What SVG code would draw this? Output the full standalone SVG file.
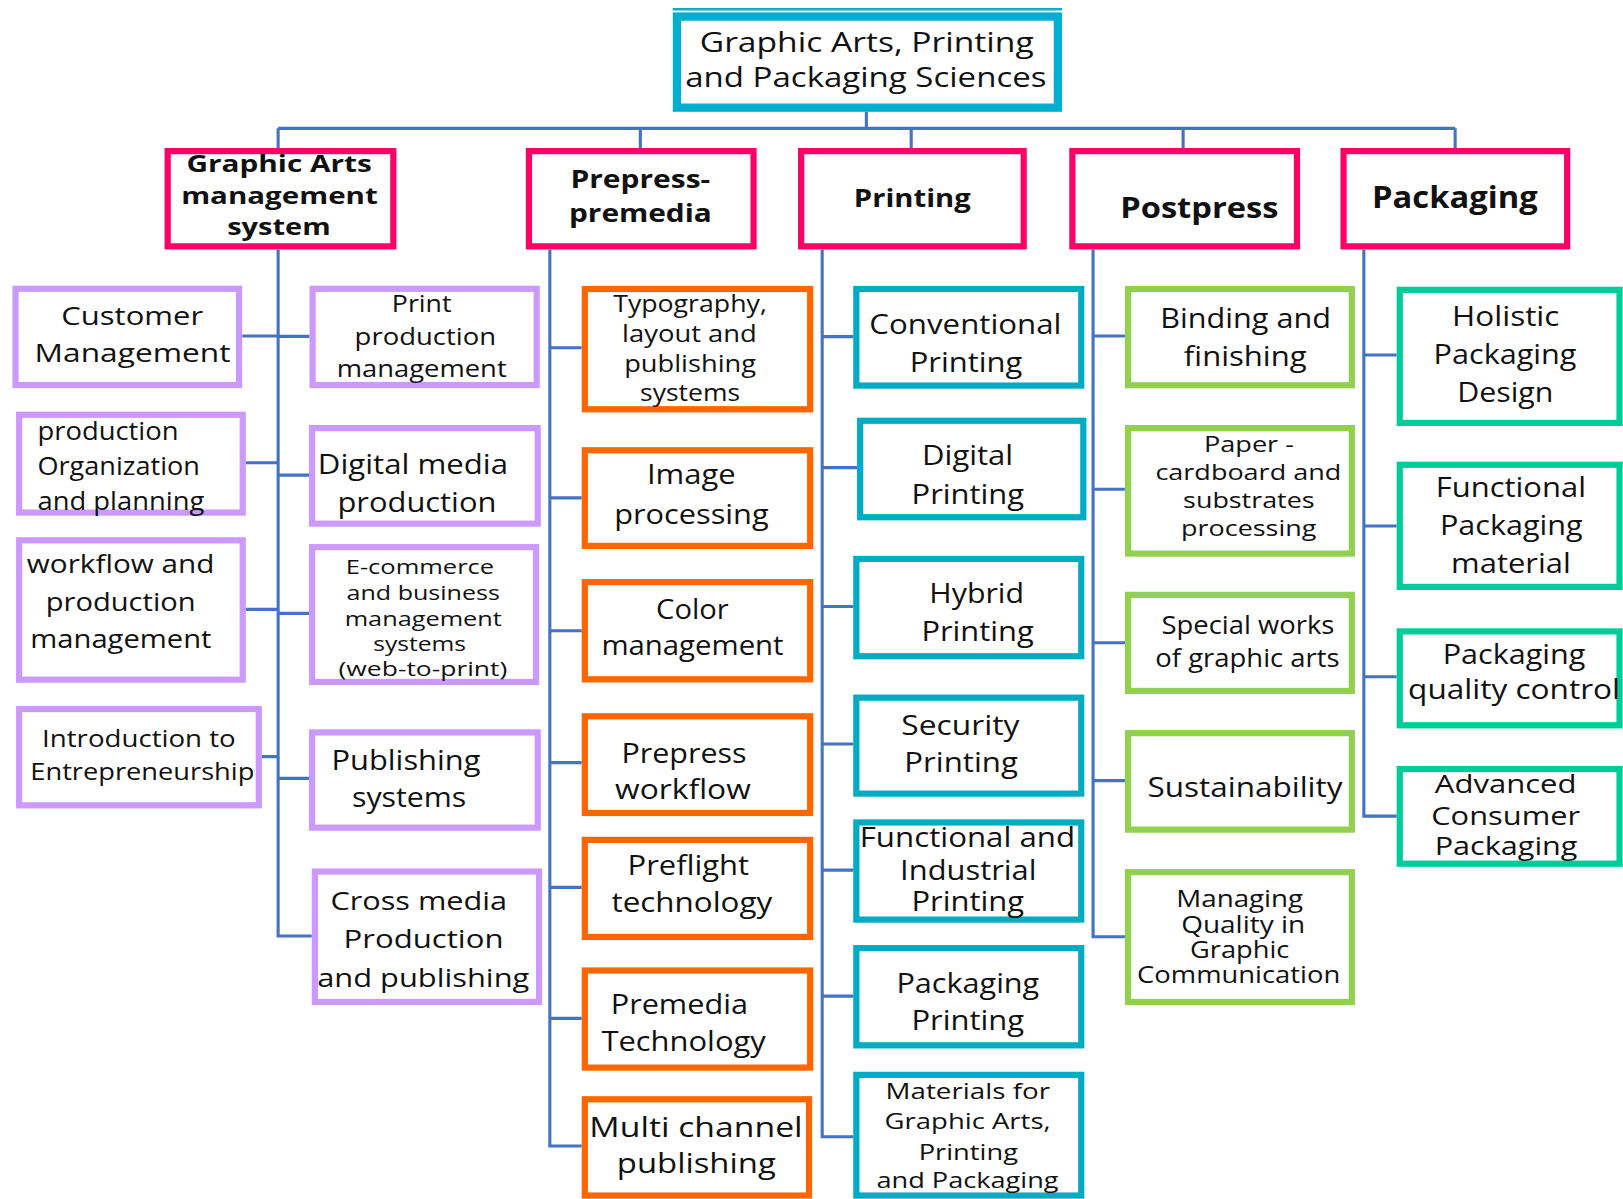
<svg xmlns="http://www.w3.org/2000/svg" width="1623" height="1199" viewBox="0 0 1623 1199">
<style>
text{font-family:"Open Sans","Liberation Sans",sans-serif;fill:#111;text-anchor:middle}
.b text{font-weight:bold}
.box{fill:#fff;stroke-width:6}
.top{fill:#fff;stroke:#00AED0;stroke-width:8}
.l1{stroke:#FF0066}
.ga{stroke:#CC99FF}
.pp{stroke:#FF6600}
.pr{stroke:#00ACC1}
.po{stroke:#92D050}
.pk{stroke:#00CC99}
.c{fill:none;stroke:#4472C4;stroke-width:3}
</style>
<rect width="1623" height="1199" fill="#fff"/>
<g transform="scale(1.0351)">
<g id="connectors" class="c">
<path d="M837,108V124M268.7,124H1405.8M268.7,124V143M618.6,124V143M880.3,124V143M1143,124V143M1405.8,124V143"/>
<path d="M268.7,241V904.3H301.2M234,324.6H268.7M268.7,325H299M237.4,447H268.7M268.7,459H298.5M237.4,588.7H268.7M268.7,592.6H298.5M253,731H268.7M268.7,752H298.5"/>
<path d="M531.2,241V1107.2H562M531.2,336H562M531.2,481H562M531.2,609.3H562M531.2,736.8H562M531.2,857.3H562M531.2,983.8H562"/>
<path d="M794.3,241V1098.2H824.3M794.3,325.2H824.3M794.3,451.8H828M794.3,586H824.3M794.3,718.8H824.3M794.3,840.6H824.3M794.3,962.3H824.3"/>
<path d="M1056,241V905H1086.8M1056,324.6H1086.8M1056,472.7H1086.8M1056,621H1086.8M1056,754.2H1086.8"/>
<path d="M1317.6,241V788.4H1349.3M1317.6,343H1349.3M1317.6,508.2H1349.3M1317.6,653.8H1349.3"/>
</g>

<g id="root" font-size="27">
<line x1="650" y1="9" x2="1026" y2="9" stroke="#00AED0" stroke-width="2.5"/>
<rect class="top" x="654" y="16" width="368" height="88"/>
<text x="837.3" y="50" textLength="322.6" lengthAdjust="spacingAndGlyphs">Graphic Arts, Printing</text>
<text x="836.5" y="84" textLength="349" lengthAdjust="spacingAndGlyphs">and Packaging Sciences</text>
</g>

<g id="ga" class="b" font-size="22.4">
<rect class="box l1" x="162" y="146" width="218" height="92"/>
<text x="269.6" y="166" textLength="179" lengthAdjust="spacingAndGlyphs">Graphic Arts</text>
<text x="270" y="197" textLength="190" lengthAdjust="spacingAndGlyphs">management</text>
<text x="269.5" y="227" textLength="100" lengthAdjust="spacingAndGlyphs">system</text>
</g>
<g id="prepress" class="b" font-size="24.8">
<rect class="box l1" x="511" y="146" width="217" height="92"/>
<text x="618.6" y="182" textLength="135" lengthAdjust="spacingAndGlyphs">Prepress-</text>
<text x="618.7" y="214" textLength="138" lengthAdjust="spacingAndGlyphs">premedia</text>
</g>
<g id="printing" class="b" font-size="24.8">
<rect class="box l1" x="774" y="146" width="215" height="92"/>
<text x="881.4" y="199.7" textLength="113" lengthAdjust="spacingAndGlyphs">Printing</text>
</g>
<g id="postpress" class="b" font-size="27">
<rect class="box l1" x="1036" y="146" width="217" height="92"/>
<text x="1158.7" y="211" textLength="153" lengthAdjust="spacingAndGlyphs">Postpress</text>
</g>
<g id="packaging" class="b" font-size="29.4">
<rect class="box l1" x="1298" y="146" width="216" height="92"/>
<text x="1405.5" y="201" textLength="160" lengthAdjust="spacingAndGlyphs">Packaging</text>
</g>

<g id="customer-management" font-size="24.8">
<rect class="box ga" x="15" y="279" width="216" height="93"/>
<text x="127.7" y="314" textLength="137" lengthAdjust="spacingAndGlyphs">Customer</text>
<text x="128.1" y="349.4" textLength="189.3" lengthAdjust="spacingAndGlyphs">Management</text>
</g>
<g id="print-production-management" font-size="22.4">
<rect class="box ga" x="302" y="279" width="216.5" height="93"/>
<text x="407.4" y="301" textLength="57.6" lengthAdjust="spacingAndGlyphs">Print</text>
<text x="410.9" y="333.3" textLength="136.6" lengthAdjust="spacingAndGlyphs">production</text>
<text x="407.4" y="364" textLength="164.2" lengthAdjust="spacingAndGlyphs">management</text>
</g>
<g id="production-organization" font-size="23.8">
<rect class="box ga" x="18.5" y="400.7" width="216" height="94.5"/>
<text x="36.2" y="425" textLength="136.3" lengthAdjust="spacingAndGlyphs" style="text-anchor:start">production</text>
<text x="36.2" y="459" textLength="157" lengthAdjust="spacingAndGlyphs" style="text-anchor:start">Organization</text>
<text x="36.2" y="492.8" textLength="161.2" lengthAdjust="spacingAndGlyphs" style="text-anchor:start">and planning</text>
</g>
<g id="digital-media-production" font-size="25.8">
<rect class="box ga" x="301.5" y="413.6" width="218" height="92.3"/>
<text x="398.9" y="458" textLength="183.7" lengthAdjust="spacingAndGlyphs">Digital media</text>
<text x="402.8" y="494.4" textLength="153.6" lengthAdjust="spacingAndGlyphs">production</text>
</g>
<g id="workflow-production-management" font-size="24.8">
<rect class="box ga" x="18.5" y="522" width="216" height="134.6"/>
<text x="116.5" y="554" textLength="181.1" lengthAdjust="spacingAndGlyphs">workflow and</text>
<text x="116.6" y="590" textLength="144.8" lengthAdjust="spacingAndGlyphs">production</text>
<text x="116.8" y="626.4" textLength="175" lengthAdjust="spacingAndGlyphs">management</text>
</g>
<g id="e-commerce" font-size="19">
<rect class="box ga" x="301.5" y="528.6" width="216.4" height="130.2"/>
<text x="405.7" y="554.6" textLength="143.3" lengthAdjust="spacingAndGlyphs">E-commerce</text>
<text x="408.9" y="579.7" textLength="148.3" lengthAdjust="spacingAndGlyphs">and business</text>
<text x="408.9" y="604.8" textLength="151.8" lengthAdjust="spacingAndGlyphs">management</text>
<text x="405.4" y="628.7" textLength="89.7" lengthAdjust="spacingAndGlyphs">systems</text>
<text x="408.6" y="653" textLength="163" lengthAdjust="spacingAndGlyphs">(web-to-print)</text>
</g>
<g id="entrepreneurship" font-size="22.4">
<rect class="box ga" x="18.5" y="685" width="231.5" height="93"/>
<text x="134.2" y="721.4" textLength="187.1" lengthAdjust="spacingAndGlyphs">Introduction to</text>
<text x="137.5" y="753.6" textLength="216.4" lengthAdjust="spacingAndGlyphs">Entrepreneurship</text>
</g>
<g id="publishing-systems" font-size="27">
<rect class="box ga" x="301.5" y="707.6" width="218" height="92"/>
<text x="392.2" y="744" textLength="143.9" lengthAdjust="spacingAndGlyphs">Publishing</text>
<text x="395.2" y="779.4" textLength="110.3" lengthAdjust="spacingAndGlyphs">systems</text>
</g>
<g id="cross-media" font-size="23.8">
<rect class="box ga" x="304.2" y="842" width="216.6" height="126"/>
<text x="404.6" y="879" textLength="170.8" lengthAdjust="spacingAndGlyphs">Cross media</text>
<text x="409.2" y="916.2" textLength="154.5" lengthAdjust="spacingAndGlyphs">Production</text>
<text x="408.9" y="953.3" textLength="204.9" lengthAdjust="spacingAndGlyphs">and publishing</text>
</g>

<g id="typography" font-size="23.4">
<rect class="box pp" x="565" y="279.2" width="217.7" height="116.2"/>
<text x="666.6" y="301" textLength="148.4" lengthAdjust="spacingAndGlyphs">Typography,</text>
<text x="666.1" y="330" textLength="130.2" lengthAdjust="spacingAndGlyphs">layout and</text>
<text x="666.7" y="359.4" textLength="127.4" lengthAdjust="spacingAndGlyphs">publishing</text>
<text x="666.7" y="387" textLength="96.6" lengthAdjust="spacingAndGlyphs">systems</text>
</g>
<g id="image-processing" font-size="25.6">
<rect class="box pp" x="565" y="435" width="217.7" height="92.4"/>
<text x="667.9" y="467.7" textLength="85.8" lengthAdjust="spacingAndGlyphs">Image</text>
<text x="668" y="506" textLength="149.1" lengthAdjust="spacingAndGlyphs">processing</text>
</g>
<g id="color-management" font-size="25.6">
<rect class="box pp" x="565" y="562.4" width="217.7" height="93.9"/>
<text x="668.9" y="597.7" textLength="70.2" lengthAdjust="spacingAndGlyphs">Color</text>
<text x="669" y="632.6" textLength="176" lengthAdjust="spacingAndGlyphs">management</text>
</g>
<g id="prepress-workflow" font-size="26">
<rect class="box pp" x="565" y="692" width="217.7" height="93.4"/>
<text x="660.8" y="736.9" textLength="120.8" lengthAdjust="spacingAndGlyphs">Prepress</text>
<text x="659.8" y="772.2" textLength="131.1" lengthAdjust="spacingAndGlyphs">workflow</text>
</g>
<g id="preflight" font-size="26">
<rect class="box pp" x="565" y="811.4" width="217.7" height="93.8"/>
<text x="665" y="845.4" textLength="117.4" lengthAdjust="spacingAndGlyphs">Preflight</text>
<text x="668.4" y="880.8" textLength="155.3" lengthAdjust="spacingAndGlyphs">technology</text>
</g>
<g id="premedia-technology" font-size="26">
<rect class="box pp" x="565" y="937.6" width="217.7" height="93.8"/>
<text x="656.3" y="979.7" textLength="132.6" lengthAdjust="spacingAndGlyphs">Premedia</text>
<text x="660.4" y="1015" textLength="158.8" lengthAdjust="spacingAndGlyphs">Technology</text>
</g>
<g id="multi-channel" font-size="27">
<rect class="box pp" x="565" y="1062" width="216.6" height="93"/>
<text x="672.4" y="1098.2" textLength="206" lengthAdjust="spacingAndGlyphs">Multi channel</text>
<text x="672.7" y="1133.6" textLength="153.5" lengthAdjust="spacingAndGlyphs">publishing</text>
</g>

<g id="conventional-printing" font-size="26.6">
<rect class="box pr" x="827.3" y="279.2" width="217.3" height="93.3"/>
<text x="932.7" y="322.8" textLength="185.6" lengthAdjust="spacingAndGlyphs">Conventional</text>
<text x="933.2" y="359.4" textLength="108.7" lengthAdjust="spacingAndGlyphs">Printing</text>
</g>
<g id="digital-printing" font-size="26.6">
<rect class="box pr" x="831" y="406.5" width="215.6" height="93.2"/>
<text x="934.8" y="449.3" textLength="88" lengthAdjust="spacingAndGlyphs">Digital</text>
<text x="935" y="487" textLength="108.7" lengthAdjust="spacingAndGlyphs">Printing</text>
</g>
<g id="hybrid-printing" font-size="26.6">
<rect class="box pr" x="827.3" y="540" width="217.3" height="94"/>
<text x="943.6" y="582.6" textLength="91.5" lengthAdjust="spacingAndGlyphs">Hybrid</text>
<text x="944.4" y="619.3" textLength="108.4" lengthAdjust="spacingAndGlyphs">Printing</text>
</g>
<g id="security-printing" font-size="26.6">
<rect class="box pr" x="827.3" y="674" width="217.3" height="92.7"/>
<text x="927.8" y="710" textLength="114" lengthAdjust="spacingAndGlyphs">Security</text>
<text x="928.5" y="745.6" textLength="109.7" lengthAdjust="spacingAndGlyphs">Printing</text>
</g>
<g id="functional-industrial-printing" font-size="25.8">
<rect class="box pr" x="827.3" y="794.6" width="217.3" height="93.8"/>
<text x="934.6" y="818.6" textLength="208" lengthAdjust="spacingAndGlyphs">Functional and</text>
<text x="935.5" y="850.2" textLength="131.8" lengthAdjust="spacingAndGlyphs">Industrial</text>
<text x="935" y="879.9" textLength="108.8" lengthAdjust="spacingAndGlyphs">Printing</text>
</g>
<g id="packaging-printing" font-size="26">
<rect class="box pr" x="827.3" y="916" width="217.3" height="93.9"/>
<text x="935" y="959.7" textLength="138" lengthAdjust="spacingAndGlyphs">Packaging</text>
<text x="935" y="995" textLength="108.8" lengthAdjust="spacingAndGlyphs">Printing</text>
</g>
<g id="materials" font-size="21.7">
<rect class="box pr" x="827.3" y="1038.4" width="217.3" height="116.6"/>
<text x="935" y="1062" textLength="158.8" lengthAdjust="spacingAndGlyphs">Materials for</text>
<text x="934.8" y="1090.7" textLength="160.4" lengthAdjust="spacingAndGlyphs">Graphic Arts,</text>
<text x="935.5" y="1120.7" textLength="96" lengthAdjust="spacingAndGlyphs">Printing</text>
<text x="934.7" y="1148" textLength="176" lengthAdjust="spacingAndGlyphs">and Packaging</text>
</g>

<g id="binding-finishing" font-size="25.8">
<rect class="box po" x="1089.8" y="279.3" width="216.2" height="92.9"/>
<text x="1203.4" y="317.2" textLength="164.8" lengthAdjust="spacingAndGlyphs">Binding and</text>
<text x="1203" y="353.6" textLength="118.6" lengthAdjust="spacingAndGlyphs">finishing</text>
</g>
<g id="paper-cardboard" font-size="21.2">
<rect class="box po" x="1089.8" y="413.6" width="216.2" height="121.2"/>
<text x="1206.6" y="436.4" textLength="87" lengthAdjust="spacingAndGlyphs">Paper -</text>
<text x="1206" y="463.8" textLength="179.5" lengthAdjust="spacingAndGlyphs">cardboard and</text>
<text x="1206.5" y="491" textLength="127" lengthAdjust="spacingAndGlyphs">substrates</text>
<text x="1206.4" y="517.9" textLength="130.7" lengthAdjust="spacingAndGlyphs">processing</text>
</g>
<g id="special-works" font-size="24.4">
<rect class="box po" x="1089.8" y="574.7" width="216.2" height="92.8"/>
<text x="1205.6" y="612.5" textLength="167" lengthAdjust="spacingAndGlyphs">Special works</text>
<text x="1205.2" y="644.7" textLength="178" lengthAdjust="spacingAndGlyphs">of graphic arts</text>
</g>
<g id="sustainability" font-size="26.2">
<rect class="box po" x="1089.8" y="708.3" width="216.2" height="93.2"/>
<text x="1202.8" y="769.7" textLength="188.3" lengthAdjust="spacingAndGlyphs">Sustainability</text>
</g>
<g id="managing-quality" font-size="22.4">
<rect class="box po" x="1089.8" y="842.6" width="216.2" height="125.4"/>
<text x="1197.7" y="876" textLength="122.6" lengthAdjust="spacingAndGlyphs">Managing</text>
<text x="1201" y="901" textLength="119.8" lengthAdjust="spacingAndGlyphs">Quality in</text>
<text x="1197.7" y="925.9" textLength="96" lengthAdjust="spacingAndGlyphs">Graphic</text>
<text x="1196.7" y="950" textLength="196.3" lengthAdjust="spacingAndGlyphs">Communication</text>
</g>

<g id="holistic-packaging-design" font-size="26.2">
<rect class="box pk" x="1352.3" y="280" width="212.3" height="128.6"/>
<text x="1454.7" y="315" textLength="103.7" lengthAdjust="spacingAndGlyphs">Holistic</text>
<text x="1454" y="351.7" textLength="138" lengthAdjust="spacingAndGlyphs">Packaging</text>
<text x="1454.3" y="388" textLength="93" lengthAdjust="spacingAndGlyphs">Design</text>
</g>
<g id="functional-packaging-material" font-size="26">
<rect class="box pk" x="1352.3" y="449" width="212.3" height="118"/>
<text x="1459.6" y="480.5" textLength="145.2" lengthAdjust="spacingAndGlyphs">Functional</text>
<text x="1460" y="516.9" textLength="137.7" lengthAdjust="spacingAndGlyphs">Packaging</text>
<text x="1459.7" y="553.9" textLength="115.6" lengthAdjust="spacingAndGlyphs">material</text>
</g>
<g id="packaging-quality-control" font-size="26">
<rect class="box pk" x="1352.3" y="610" width="212.3" height="90.7"/>
<text x="1462.7" y="641.5" textLength="137.8" lengthAdjust="spacingAndGlyphs">Packaging</text>
<text x="1462.7" y="675.6" textLength="204.7" lengthAdjust="spacingAndGlyphs">quality control</text>
</g>
<g id="advanced-consumer-packaging" font-size="25.2">
<rect class="box pk" x="1352.3" y="743" width="212.3" height="91.4"/>
<text x="1454.6" y="765.8" textLength="137" lengthAdjust="spacingAndGlyphs">Advanced</text>
<text x="1454.6" y="797" textLength="143.8" lengthAdjust="spacingAndGlyphs">Consumer</text>
<text x="1455" y="826" textLength="138" lengthAdjust="spacingAndGlyphs">Packaging</text>
</g>
</g>
</svg>
